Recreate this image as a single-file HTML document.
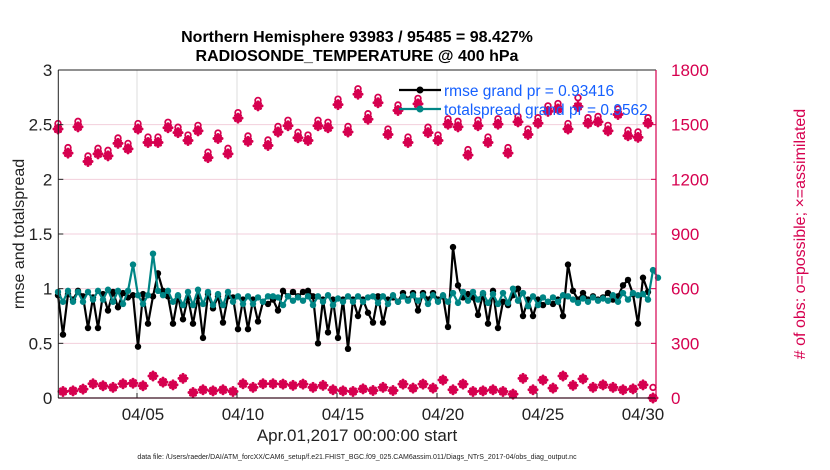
<!DOCTYPE html>
<html><head><meta charset="utf-8"><style>
html,body{margin:0;padding:0;background:#fff;width:830px;height:470px;overflow:hidden}
svg{display:block;font-family:"Liberation Sans",Arial,sans-serif}
</style></head><body>
<svg id="chart" width="830" height="470" xmlns="http://www.w3.org/2000/svg">
<text x="357" y="42" text-anchor="middle" font-size="16" font-weight="bold">Northern Hemisphere 93983 / 95485 = 98.427%</text>
<text x="357" y="61" text-anchor="middle" font-size="16" font-weight="bold">RADIOSONDE_TEMPERATURE @ 400 hPa</text>
<text transform="translate(24,234) rotate(-90)" text-anchor="middle" font-size="16" fill="#222">rmse and totalspread</text>
<text transform="translate(805,234) rotate(-90)" text-anchor="middle" font-size="16" fill="#d6004f"># of obs: o=possible; ×=assimilated</text>
<text x="357" y="441" text-anchor="middle" font-size="17" fill="#222">Apr.01,2017 00:00:00 start</text>
<text x="357" y="459" text-anchor="middle" font-size="7" fill="#222">data file: /Users/raeder/DAI/ATM_forcXX/CAM6_setup/f.e21.FHIST_BGC.f09_025.CAM6assim.011/Diags_NTrS_2017-04/obs_diag_output.nc</text>
<g id="grid"></g><g id="obs"></g><g id="lines"></g><g id="axes"></g><g id="legend"></g>
</svg>
<script>
const xTickLabels = ["04/05","04/10","04/15","04/20","04/25","04/30"];
const xTickDays = [4,9,14,19,24,29];
const leftTicks = ["0","0.5","1","1.5","2","2.5","3"];
const leftTickVals = [0,0.5,1,1.5,2,2.5,3];
const rightTicks = ["0","300","600","900","1200","1500","1800"];
const rightTickVals = [0,300,600,900,1200,1500,1800];
const rmse = [0.94,0.58,0.95,0.9,0.98,0.93,0.64,0.92,0.64,0.95,0.8,0.97,0.83,0.96,0.92,0.94,0.47,0.95,0.68,0.93,1.14,0.98,0.93,0.68,0.93,0.72,0.92,0.68,0.93,0.55,0.95,0.82,0.93,0.69,0.93,0.92,0.63,0.9,0.63,0.9,0.7,0.88,0.86,0.9,0.8,0.98,0.93,0.97,0.93,0.97,0.98,0.93,0.5,0.9,0.6,0.9,0.55,0.9,0.45,0.9,0.75,0.9,0.78,0.69,0.93,0.69,0.9,0.92,0.88,0.96,0.9,0.96,0.8,0.96,0.9,0.96,0.9,0.93,0.65,1.38,1.03,0.92,0.95,0.92,0.76,0.95,0.68,0.98,0.64,0.88,0.85,0.94,1.0,0.75,0.9,0.75,0.9,0.85,0.88,0.86,0.9,0.75,1.22,0.98,0.9,0.96,0.9,0.93,0.9,0.92,0.96,0.9,0.93,1.03,1.08,0.95,0.68,1.1,0.97];
const spread = [0.97,0.88,0.98,0.88,0.97,0.88,0.97,0.9,0.98,0.9,0.99,0.88,0.98,0.86,0.98,1.22,0.94,0.86,0.94,1.32,0.98,0.94,0.98,0.88,0.94,0.85,0.97,0.85,0.99,0.86,0.97,0.85,0.95,0.85,0.97,0.88,0.93,0.86,0.93,0.86,0.92,0.88,0.93,0.93,0.92,0.85,0.93,0.89,0.92,0.89,0.93,0.85,0.93,0.88,0.94,0.85,0.91,0.88,0.93,0.88,0.93,0.88,0.92,0.93,0.87,0.93,0.86,0.94,0.88,0.93,0.89,0.94,0.89,0.94,0.86,0.94,0.88,0.94,0.88,0.96,0.87,0.97,0.89,0.97,0.9,0.96,0.87,0.95,0.86,0.96,0.87,1.0,0.89,0.96,0.84,0.93,0.85,0.92,0.88,0.92,0.88,0.94,0.93,0.9,0.87,0.91,0.88,0.92,0.89,0.91,0.89,0.94,0.88,0.96,0.9,0.96,0.94,0.95,0.9,1.17,1.1];
const topPossible = [1506,1374,1518,1328,1370,1359,1427,1397,1506,1432,1432,1513,1486,1443,1496,1349,1454,1370,1566,1438,1633,1416,1490,1524,1458,1443,1524,1513,1640,1490,1697,1560,1650,1476,1608,1432,1644,1486,1443,1532,1518,1363,1524,1432,1532,1374,1545,1476,1538,1603,1616,1506,1648,1538,1545,1496,1586,1469,1460,1538];
const topAssim = [1476,1344,1488,1298,1340,1329,1397,1367,1476,1402,1402,1483,1456,1413,1466,1319,1424,1340,1536,1408,1603,1386,1460,1494,1428,1413,1494,1483,1610,1460,1667,1530,1620,1446,1578,1402,1614,1456,1413,1502,1488,1333,1494,1402,1502,1344,1515,1446,1508,1573,1586,1476,1600,1508,1515,1466,1556,1439,1430,1508];
const botPossible = [36,39,49,78,67,58,78,81,67,121,87,72,108,30,45,39,45,36,78,58,78,78,76,69,76,58,69,45,39,36,50,41,58,41,76,54,76,54,99,45,76,36,39,45,36,21,108,45,99,54,121,69,105,58,72,58,45,50,72,58];
const botAssim = [36,39,49,78,67,58,78,81,67,121,87,72,108,30,45,39,45,36,78,58,78,78,76,69,76,58,69,45,39,36,50,41,58,41,76,54,76,54,99,45,76,36,39,45,36,21,108,45,99,54,121,69,105,58,72,58,45,50,72,0];

const NS="http://www.w3.org/2000/svg";
const PL=58.3, PR=656, PT=70, PB=398;
const MAG="#d6004f", TEAL="#008585";
const xs = t => 57 + t*20;
const yL = v => PB - (v/3)*(PB-PT);
const yR = v => PB - (v/1800)*(PB-PT);
function mk(tag, attrs, parent){const e=document.createElementNS(NS,tag);for(const k in attrs)e.setAttribute(k,attrs[k]);parent.appendChild(e);return e;}
const grid=document.getElementById('grid'), axes=document.getElementById('axes'), lines=document.getElementById('lines'), obs=document.getElementById('obs'), leg=document.getElementById('legend');

leftTickVals.forEach((v,i)=>{
  const y=yL(v);
  if(v>0&&v<3){const g=mk('line',{x1:PL,x2:PR,y1:y,y2:y,stroke:'#f3cfdc','stroke-width':1},grid);
  
  }
  const t=mk('text',{x:PL-6,y:y+6,'text-anchor':'end','font-size':17,fill:'#222'},axes);t.textContent=leftTicks[i];
  
  
  mk('line',{x1:PL,x2:PL+5,y1:y,y2:y,stroke:'#222'},axes);
});
rightTickVals.forEach((v,i)=>{
  const y=yR(v);
  const t=mk('text',{x:PR+15,y:y+6,'font-size':17,fill:MAG},axes);t.textContent=rightTicks[i];
  
  
  mk('line',{x1:PR-5,x2:PR,y1:y,y2:y,stroke:MAG},axes);
});
xTickDays.forEach((d,i)=>{
  const x=xs(d);
  const g=mk('line',{x1:x,x2:x,y1:PT,y2:PB,stroke:'#dcdcdc','stroke-width':1},grid);
  
  
  mk('line',{x1:x,x2:x,y1:PB,y2:PB-5,stroke:'#222'},axes);
  const t=mk('text',{x:x+6,y:PB+22,'text-anchor':'middle','font-size':17,fill:'#222'},axes);t.textContent=xTickLabels[i];
  
  
});
mk('line',{x1:PL,x2:PR,y1:PT,y2:PT,stroke:'#222'},axes);
mk('line',{x1:PL,x2:PR,y1:PB,y2:PB,stroke:'#3a1020','stroke-width':1.2},axes);
mk('line',{x1:PL,x2:PL,y1:PT,y2:PB,stroke:'#222'},axes);
const ra=mk('line',{x1:PR,x2:PR,y1:PT,y2:PB,stroke:MAG,'stroke-width':1.2},axes);



function star(x,y,parent,name){
  const g=mk('g',{stroke:MAG,'stroke-width':3,'stroke-linecap':'round'},parent);
  
  
  mk('line',{x1:x-4,x2:x+4,y1:y,y2:y},g);mk('line',{x1:x,x2:x,y1:y-4,y2:y+4},g);
  mk('line',{x1:x-2.5,x2:x+2.5,y1:y-2.5,y2:y+2.5},g);mk('line',{x1:x-2.5,x2:x+2.5,y1:y+2.5,y2:y-2.5},g);
}
function drawObs(poss,assim,t0,name){
  poss.forEach((v,i)=>{const c=mk('circle',{cx:xs(t0+i*0.5),cy:yR(v),r:2.8,fill:'#fff',stroke:MAG,'stroke-width':1.8},obs);
  
  });
  assim.forEach((v,i)=>{star(xs(t0+i*0.5),yR(v),obs,name+'-assimilated');});
}
drawObs(topPossible,topAssim,0.05,'obs-main');
drawObs(botPossible,botAssim,0.3,'obs-off');

function series(vals,color,name){
  const pts=vals.map((v,i)=>xs(0.05+i*0.25).toFixed(1)+','+yL(v).toFixed(1)).join(' ');
  const p=mk('polyline',{points:pts,fill:'none',stroke:color,'stroke-width':2.2,'stroke-linejoin':'round'},lines);
  
  
  vals.forEach((v,i)=>{const c=mk('circle',{cx:xs(0.05+i*0.25),cy:yL(v),r:3.2,fill:color},lines);
  
  });
}
series(rmse,'#000','rmse');
series(spread,TEAL,'totalspread');

[[90,'#000','rmse grand pr = 0.93416','legend-entry-rmse'],[109,TEAL,'totalspread grand pr = 0.9562','legend-entry-totalspread']].forEach(a=>{
  const g=mk('g',{},leg);
  
  
  mk('line',{x1:399,x2:441,y1:a[0],y2:a[0],stroke:a[1],'stroke-width':2.2},g);
  mk('circle',{cx:420,cy:a[0],r:3.5,fill:a[1]},g);
  const t=mk('text',{x:444,y:a[0]+6,'font-size':15.5,fill:'#1560ff'},g);t.textContent=a[2];
});
</script>
</body></html>
